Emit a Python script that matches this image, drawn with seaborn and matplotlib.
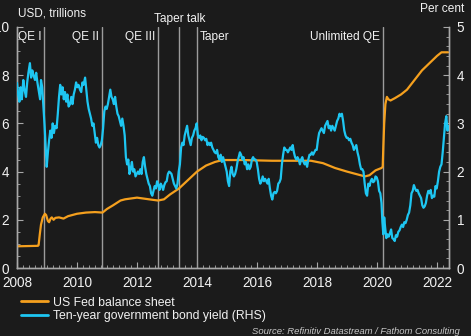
import matplotlib
matplotlib.use("Agg")
import matplotlib.pyplot as plt
from matplotlib.lines import Line2D
from matplotlib.ticker import MultipleLocator, FixedLocator
import pandas as pd
import seaborn as sns

# --- Fed balance sheet, USD trillions (left axis) ---
fed_dates = [2008.00, 2008.70, 2008.72, 2008.76, 2008.80, 2008.86, 2008.93, 2008.97,
             2009.03, 2009.07, 2009.12, 2009.16, 2009.22, 2009.28, 2009.40, 2009.55,
             2009.70, 2009.85, 2010.00, 2010.30, 2010.60, 2010.85, 2011.00, 2011.20,
             2011.45, 2011.60, 2012.00, 2012.40, 2012.70, 2012.90, 2013.10, 2013.40,
             2013.70, 2014.00, 2014.30, 2014.60, 2014.85, 2015.50, 2016.50, 2017.50,
             2017.80, 2018.20, 2018.60, 2019.00, 2019.30, 2019.60, 2019.75, 2019.95,
             2020.15, 2020.19, 2020.21, 2020.24, 2020.28, 2020.33, 2020.38, 2020.45,
             2020.60, 2020.80, 2021.00, 2021.25, 2021.50, 2021.75, 2022.00, 2022.15,
             2022.37]
fed_values = [0.90, 0.92, 0.95, 1.40, 1.80, 2.10, 2.25, 2.20,
              1.95, 1.90, 2.05, 2.10, 2.00, 2.08, 2.10, 2.05,
              2.15, 2.20, 2.25, 2.30, 2.32, 2.30, 2.45, 2.60,
              2.80, 2.85, 2.92, 2.85, 2.80, 2.85, 3.05, 3.30,
              3.65, 4.00, 4.25, 4.40, 4.48, 4.48, 4.45, 4.45,
              4.45, 4.35, 4.15, 4.00, 3.90, 3.80, 3.85, 4.05,
              4.15, 4.20, 5.00, 6.00, 6.80, 7.10, 7.00, 6.95,
              7.05, 7.20, 7.40, 7.80, 8.20, 8.50, 8.80, 8.95,
              8.95]

# --- Ten-year government bond yield, per cent (right axis) ---
yld_dates = [
    2008.00, 2008.04, 2008.08, 2008.12, 2008.16, 2008.21, 2008.25, 2008.30, 2008.34, 2008.38,
    2008.43, 2008.47, 2008.51, 2008.55, 2008.60, 2008.64, 2008.68, 2008.72, 2008.77, 2008.80,
    2008.84, 2008.88, 2008.92, 2008.96, 2008.99, 2009.03, 2009.07, 2009.11, 2009.15, 2009.19,
    2009.23, 2009.27, 2009.32, 2009.36, 2009.40, 2009.44, 2009.48, 2009.52, 2009.56, 2009.60,
    2009.64, 2009.68, 2009.72, 2009.77, 2009.81, 2009.85, 2009.89, 2009.93, 2009.97, 2010.01,
    2010.05, 2010.10, 2010.14, 2010.18, 2010.22, 2010.27, 2010.31, 2010.35, 2010.39, 2010.43,
    2010.47, 2010.51, 2010.55, 2010.59, 2010.63, 2010.67, 2010.71, 2010.75, 2010.79, 2010.83,
    2010.87, 2010.91, 2010.95, 2010.99, 2011.03, 2011.07, 2011.11, 2011.15, 2011.19, 2011.23,
    2011.27, 2011.31, 2011.35, 2011.39, 2011.43, 2011.47, 2011.51, 2011.55, 2011.59, 2011.63,
    2011.67, 2011.71, 2011.75, 2011.79, 2011.83, 2011.87, 2011.91, 2011.95, 2011.99, 2012.03,
    2012.07, 2012.11, 2012.15, 2012.19, 2012.23, 2012.27, 2012.31, 2012.35, 2012.39, 2012.43,
    2012.47, 2012.51, 2012.55, 2012.59, 2012.63, 2012.67, 2012.71, 2012.75, 2012.79, 2012.83,
    2012.87, 2012.91, 2012.95, 2012.99, 2013.03, 2013.07, 2013.11, 2013.15, 2013.19, 2013.23,
    2013.27, 2013.31, 2013.35, 2013.39, 2013.43, 2013.47, 2013.51, 2013.55, 2013.59, 2013.63,
    2013.67, 2013.71, 2013.75, 2013.79, 2013.83, 2013.87, 2013.91, 2013.95, 2013.99, 2014.03,
    2014.07, 2014.11, 2014.15, 2014.19, 2014.23, 2014.27, 2014.31, 2014.35, 2014.39, 2014.43,
    2014.47, 2014.51, 2014.55, 2014.59, 2014.63, 2014.67, 2014.71, 2014.75, 2014.79, 2014.83,
    2014.87, 2014.91, 2014.95, 2014.99, 2015.03, 2015.07, 2015.11, 2015.15, 2015.19, 2015.23,
    2015.27, 2015.31, 2015.35, 2015.39, 2015.43, 2015.47, 2015.51, 2015.55, 2015.59, 2015.63,
    2015.67, 2015.71, 2015.75, 2015.79, 2015.83, 2015.87, 2015.91, 2015.95, 2015.99, 2016.03,
    2016.07, 2016.11, 2016.15, 2016.19, 2016.23, 2016.27, 2016.31, 2016.35, 2016.39, 2016.43,
    2016.47, 2016.51, 2016.55, 2016.59, 2016.63, 2016.67, 2016.71, 2016.75, 2016.79, 2016.83,
    2016.87, 2016.91, 2016.95, 2016.99, 2017.03, 2017.07, 2017.11, 2017.15, 2017.19, 2017.23,
    2017.27, 2017.31, 2017.35, 2017.39, 2017.43, 2017.47, 2017.51, 2017.55, 2017.59, 2017.63,
    2017.67, 2017.71, 2017.75, 2017.79, 2017.83, 2017.87, 2017.91, 2017.95, 2017.99, 2018.03,
    2018.07, 2018.11, 2018.15, 2018.19, 2018.23, 2018.27, 2018.31, 2018.35, 2018.39, 2018.43,
    2018.47, 2018.51, 2018.55, 2018.59, 2018.63, 2018.67, 2018.71, 2018.75, 2018.79, 2018.83,
    2018.87, 2018.91, 2018.95, 2018.99, 2019.03, 2019.07, 2019.11, 2019.15, 2019.19, 2019.23,
    2019.27, 2019.31, 2019.35, 2019.39, 2019.43, 2019.47, 2019.51, 2019.55, 2019.59, 2019.63,
    2019.67, 2019.71, 2019.75, 2019.79, 2019.83, 2019.87, 2019.91, 2019.95, 2019.99, 2020.03,
    2020.07, 2020.11, 2020.15, 2020.18, 2020.21, 2020.24, 2020.27, 2020.31, 2020.35, 2020.39,
    2020.43, 2020.47, 2020.51, 2020.55, 2020.59, 2020.63, 2020.67, 2020.71, 2020.75, 2020.79,
    2020.83, 2020.87, 2020.91, 2020.95, 2020.99, 2021.03, 2021.07, 2021.11, 2021.15, 2021.19,
    2021.23, 2021.27, 2021.31, 2021.35, 2021.39, 2021.43, 2021.47, 2021.51, 2021.55, 2021.59,
    2021.63, 2021.67, 2021.71, 2021.75, 2021.79, 2021.83, 2021.87, 2021.91, 2021.95, 2021.99,
    2022.03, 2022.07, 2022.11, 2022.15, 2022.19, 2022.23, 2022.27, 2022.31, 2022.35, 2022.37]
yld_values = [
    3.84, 3.60, 3.45, 3.75, 3.50, 3.90, 3.70, 3.55, 3.85, 4.05,
    4.25, 3.95, 4.10, 4.00, 3.90, 4.05, 3.85, 3.70, 3.50, 3.90,
    3.75, 3.35, 2.95, 2.45, 2.10, 2.40, 2.65, 2.85, 2.70, 3.00,
    2.80, 2.95, 2.90, 3.20, 3.55, 3.80, 3.60, 3.75, 3.50, 3.65,
    3.45, 3.60, 3.35, 3.40, 3.55, 3.40, 3.60, 3.70, 3.85, 3.75,
    3.80, 3.70, 3.65, 3.85, 3.80, 3.95, 3.70, 3.45, 3.30, 3.20,
    3.10, 2.95, 3.00, 2.80, 2.60, 2.70, 2.55, 2.50, 2.55, 2.65,
    2.90, 3.25, 3.35, 3.30, 3.40, 3.55, 3.70, 3.55, 3.50, 3.40,
    3.55, 3.35, 3.20, 3.15, 3.05, 2.95, 3.10, 2.95, 2.75, 2.30,
    2.15, 2.25, 1.95, 2.05, 2.20, 2.00, 2.05, 1.90, 1.95, 2.00,
    1.95, 2.05, 1.95, 2.20, 2.30, 2.10, 1.95, 1.85, 1.75, 1.70,
    1.55, 1.50, 1.60, 1.70, 1.65, 1.80, 1.72, 1.62, 1.75, 1.70,
    1.62, 1.72, 1.78, 1.80, 1.95, 2.00, 1.98, 1.95, 1.85, 1.75,
    1.70, 1.65, 1.75, 2.00, 2.15, 2.50, 2.60, 2.55, 2.75, 2.85,
    2.95, 2.75, 2.65, 2.55, 2.70, 2.75, 2.85, 2.90, 3.00, 2.75,
    2.70, 2.75, 2.65, 2.72, 2.70, 2.65, 2.68, 2.55, 2.60, 2.55,
    2.60, 2.50, 2.45, 2.40, 2.38, 2.45, 2.30, 2.25, 2.35, 2.20,
    2.30, 2.20, 2.10, 2.00, 1.80, 1.70, 2.00, 2.10, 1.95, 1.90,
    1.95, 2.05, 2.20, 2.30, 2.40, 2.35, 2.25, 2.30, 2.15, 2.20,
    2.05, 2.15, 2.05, 2.10, 2.25, 2.30, 2.25, 2.25, 2.20, 2.05,
    1.85, 1.75, 1.80, 1.90, 1.80, 1.85, 1.80, 1.75, 1.85, 1.65,
    1.50, 1.42, 1.55, 1.58, 1.55, 1.60, 1.75, 1.78, 1.85, 2.15,
    2.35, 2.50, 2.45, 2.45, 2.40, 2.45, 2.50, 2.45, 2.55, 2.40,
    2.30, 2.25, 2.30, 2.25, 2.15, 2.25, 2.30, 2.20, 2.15, 2.20,
    2.10, 2.25, 2.35, 2.35, 2.40, 2.35, 2.40, 2.45, 2.45, 2.65,
    2.80, 2.85, 2.90, 2.85, 2.80, 2.95, 3.00, 3.05, 2.90, 2.95,
    2.85, 2.95, 2.90, 2.85, 2.95, 3.05, 3.10, 3.20, 3.15, 3.20,
    3.05, 2.85, 2.75, 2.70, 2.70, 2.65, 2.68, 2.60, 2.55, 2.45,
    2.50, 2.55, 2.40, 2.30, 2.15, 2.05, 2.05, 2.00, 1.75, 1.55,
    1.50, 1.75, 1.70, 1.80, 1.85, 1.78, 1.80, 1.90, 1.88, 1.80,
    1.60, 1.55, 1.35, 0.95, 0.70, 1.05, 0.85, 0.62, 0.70, 0.65,
    0.72, 0.80, 0.62, 0.60, 0.56, 0.68, 0.65, 0.75, 0.78, 0.85,
    0.90, 0.85, 0.95, 0.93, 1.00, 1.10, 1.15, 1.30, 1.55, 1.60,
    1.72, 1.65, 1.60, 1.62, 1.55, 1.50, 1.45, 1.30, 1.25, 1.28,
    1.35, 1.50, 1.60, 1.55, 1.62, 1.45, 1.50, 1.48, 1.70, 1.65,
    1.80, 2.00, 2.10, 2.15, 2.40, 2.70, 3.00, 3.15, 2.85, 2.95]

# --- Policy events ---
event_dates = [2008.91, 2010.84, 2012.69, 2013.41, 2013.99, 2020.20]
event_labels = ["QE I", "QE II", "QE III", "Taper talk", "Taper", "Unlimited QE"]

x_ticks = [2008, 2010, 2012, 2014, 2016, 2018, 2020, 2022]
left_ticks = [0, 2, 4, 6, 8, 10]
right_ticks = [0, 1, 2, 3, 4, 5]

BG = "#1b1b1b"
ORANGE = "#f5a01e"
CYAN = "#1ec6f2"
AXIS = "#a8a8a8"
TEXT = "#f2f2f2"

sns.set_theme(style="dark")
plt.rcParams["font.family"] = ["Liberation Sans", "DejaVu Sans"]

fed = pd.DataFrame({"date": fed_dates, "value": fed_values})
yld = pd.DataFrame({"date": yld_dates, "value": yld_values})

fig = plt.figure(figsize=(4.71, 3.36), dpi=100, facecolor=BG)
ax = fig.add_axes([17 / 471, 68 / 336, 432 / 471, 241 / 336])
ax.set_facecolor(BG)

for d in event_dates:
    ax.axvline(d, color="#9c9c9c", lw=1.0, zorder=1)

sns.lineplot(data=fed, x="date", y="value", ax=ax, color=ORANGE, lw=1.6,
             zorder=3, sort=True, estimator=None)

ax2 = ax.twinx()
sns.lineplot(data=yld, x="date", y="value", ax=ax2, color=CYAN, lw=1.6,
             zorder=3, sort=True, estimator=None)

ax.set_xlim(2008.0, 2022.4)
ax.set_ylim(0, 10)
ax2.set_ylim(0, 5)
ax.set_xlabel("")
ax.set_ylabel("")
ax2.set_ylabel("")

ax.xaxis.set_major_locator(FixedLocator(x_ticks))
ax.xaxis.set_minor_locator(MultipleLocator(0.2))
ax.yaxis.set_major_locator(FixedLocator(left_ticks))
ax.yaxis.set_minor_locator(MultipleLocator(0.5))
ax2.yaxis.set_major_locator(FixedLocator(right_ticks))
ax2.yaxis.set_minor_locator(MultipleLocator(0.2))

for a in (ax, ax2):
    a.grid(False)
    a.tick_params(which="both", direction="in", color=AXIS, labelcolor=TEXT,
                  labelsize=9.8)
    a.tick_params(which="major", length=4, width=0.8)
    a.tick_params(which="minor", length=2.5, width=0.6)
    a.spines["top"].set_visible(False)
    for s in ("left", "right", "bottom"):
        a.spines[s].set_color(AXIS)
        a.spines[s].set_linewidth(1.0)

ax.tick_params(axis="x", which="both", bottom=True, pad=5.5)
ax.tick_params(axis="y", which="both", left=True, pad=5.8)
ax2.tick_params(axis="y", which="both", right=True, pad=5.5)

# Event labels
for d, lab in zip(event_dates, event_labels):
    if lab == "Taper talk":
        ax.text(d, 1.01, lab, transform=ax.get_xaxis_transform(), ha="center",
                va="bottom", color=TEXT, fontsize=8.6)
    elif lab == "Taper":
        ax.text(d + 0.11, 0.985, lab, transform=ax.get_xaxis_transform(), ha="left",
                va="top", color=TEXT, fontsize=8.6)
    else:
        ax.text(d - 0.09, 0.985, lab, transform=ax.get_xaxis_transform(), ha="right",
                va="top", color=TEXT, fontsize=8.6)

fig.text(18 / 471, 1 - 14 / 336, "USD, trillions", ha="left", va="center",
         color=TEXT, fontsize=8.5)
fig.text(464 / 471, 1 - 9 / 336, "Per cent", ha="right", va="center",
         color=TEXT, fontsize=8.6)

handles = [Line2D([], [], color=ORANGE, lw=2),
           Line2D([], [], color=CYAN, lw=2)]
leg = fig.legend(handles, ["US Fed balance sheet", "Ten-year government bond yield (RHS)"],
                 loc="upper left", bbox_to_anchor=(21 / 471, 1 - 296.5 / 336),
                 frameon=False, fontsize=8.8, handlelength=2.18, handletextpad=0.41,
                 labelspacing=0.12, borderpad=0, borderaxespad=0)
for t in leg.get_texts():
    t.set_color(TEXT)

fig.text(460 / 471, 1 - 331 / 336, "Source: Refinitiv Datastream / Fathom Consulting",
         ha="right", va="center", color="#c8c8c8", fontsize=6.8, style="italic")

fig.savefig("out.png", dpi=100, facecolor=BG)
